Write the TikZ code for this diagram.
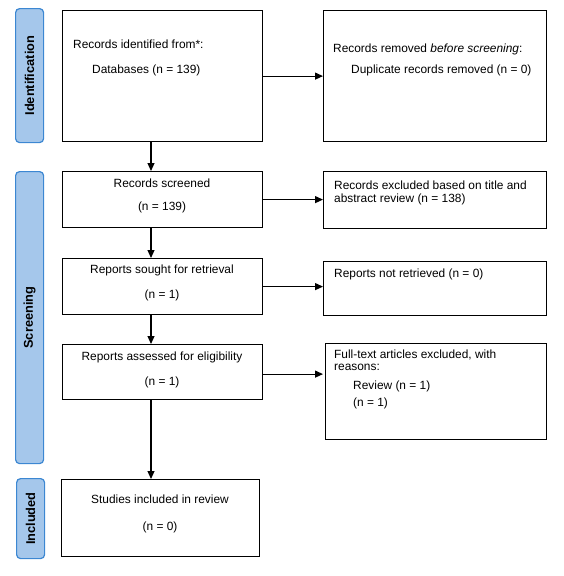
\documentclass[tikz,border=0pt]{standalone}
\usepackage{fontspec}
\setmainfont{Liberation Sans}
\usetikzlibrary{arrows.meta}
\definecolor{barfill}{RGB}{165,199,235}
\definecolor{barline}{RGB}{60,135,210}
\begin{document}
\begin{tikzpicture}[x=1pt,y=-1pt]
		\tikzstyle{box}=[draw=black,line width=1.2pt,anchor=north west,inner sep=0pt]
		\tikzstyle{bar}=[draw=barline,fill=barfill,line width=1.2pt,rounded corners=4pt,anchor=north west,inner sep=0pt]
		\tikzstyle{barlabel}=[rotate=90,font=\fontsize{12.8}{14}\selectfont\bfseries,inner sep=0pt]
		\tikzstyle{txt}=[anchor=base west,inner sep=0pt,font=\fontsize{11.9}{13.5}\selectfont]
		\tikzstyle{ctxt}=[anchor=base,inner sep=0pt,font=\fontsize{11.9}{13.5}\selectfont]
		\tikzstyle{arr}=[-{Triangle[length=8pt,width=7pt]},line width=1.2pt]
		\useasboundingbox (0,0) rectangle (564,576);
		% phase bars
		\node[bar,minimum width=28pt,minimum height=134pt] (idbar) at (15,8) {};
		\node[bar,minimum width=28pt,minimum height=292pt] (scbar) at (15,171) {};
		\node[bar,minimum width=28pt,minimum height=80pt]  (inbar) at (16,478) {};
		\node[barlabel] at (idbar.center) {Identification};
		\node[barlabel] at (scbar.center) {Screening};
		\node[barlabel] at (inbar.center) {Included};
		% boxes
		\node[box,minimum width=200pt,minimum height=131pt] (ident)    at (62,10)  {};
		\node[box,minimum width=223pt,minimum height=131pt] (removed)  at (323,10) {};
		\node[box,minimum width=200pt,minimum height=56pt]  (screened) at (62,171) {};
		\node[box,minimum width=223pt,minimum height=57pt]  (excluded) at (323,171) {};
		\node[box,minimum width=200pt,minimum height=56pt]  (sought)   at (62,258) {};
		\node[box,minimum width=223pt,minimum height=54pt]  (notret)   at (323,261) {};
		\node[box,minimum width=200pt,minimum height=55pt]  (assessed) at (62,344) {};
		\node[box,minimum width=221pt,minimum height=96pt]  (fulltext) at (325,343) {};
		\node[box,minimum width=198pt,minimum height=77pt]  (included) at (61,479) {};
		% texts
		\node[txt] (ident-1) at (73,48) {Records identified from*:};
		\node[txt] (ident-2) at (92,73) {Databases (n = 139)};
		\node[txt] (removed-1) at (333,52) {Records removed \textit{before screening}:};
		\node[txt] (removed-2) at (351,73) {Duplicate records removed (n = 0)};
		\node[ctxt] (screened-1) at (162,187) {Records screened};
		\node[ctxt] (screened-2) at (162,210) {(n = 139)};
		\node[txt] (excluded-1) at (334,189) {Records excluded based on title and};
		\node[txt] (excluded-2) at (334,202) {abstract review (n = 138)};
		\node[ctxt] (sought-1) at (162,273) {Reports sought for retrieval};
		\node[ctxt] (sought-2) at (162,298) {(n = 1)};
		\node[txt] (notret-1) at (334,277) {Reports not retrieved (n = 0)};
		\node[ctxt] (assessed-1) at (162,360) {Reports assessed for eligibility};
		\node[ctxt] (assessed-2) at (162,385) {(n = 1)};
		\node[txt] (fulltext-1) at (334,358) {Full-text articles excluded, with};
		\node[txt] (fulltext-2) at (334,370) {reasons:};
		\node[txt] (fulltext-3) at (353,389) {Review (n = 1)};
		\node[txt] (fulltext-4) at (353,406) {(n = 1)};
		\node[ctxt] (included-1) at (160,503) {Studies included in review};
		\node[ctxt] (included-2) at (160,530) {(n = 0)};
		% arrows
		\coordinate (vline) at (151,0);
		\draw[arr] (ident.south -| vline) -- (screened.north -| vline);
		\draw[arr] (screened.south -| vline) -- (sought.north -| vline);
		\draw[arr] (sought.south -| vline) -- (assessed.north -| vline);
		\draw[arr] (assessed.south -| vline) -- (included.north -| vline);
		\draw[arr] (ident.east) -- (ident.east -| removed.west);
		\draw[arr] (screened.east) -- (screened.east -| excluded.west);
		\draw[arr] (sought.east) -- (sought.east -| notret.west);
		\draw[arr] ([yshift=-2pt]assessed.east) -- ([yshift=-2pt]assessed.east -| excluded.west);
\end{tikzpicture}
\end{document}
